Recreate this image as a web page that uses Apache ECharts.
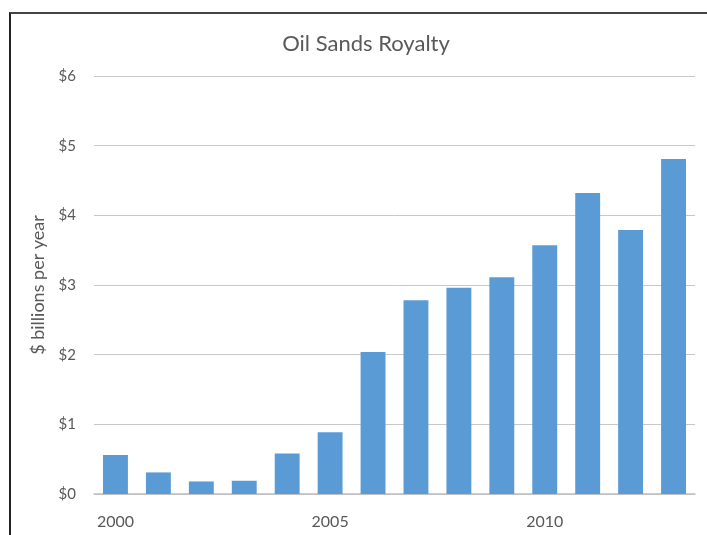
<!DOCTYPE html>
<html>
<head>
<meta charset="utf-8">
<script src="https://cdn.jsdelivr.net/npm/echarts@6/dist/echarts.min.js"></script>
<style>
html,body{margin:0;padding:0;background:#fff;overflow:hidden;}
#chart{width:707px;height:535px;position:absolute;left:0;top:0;}
#frame{position:absolute;left:9px;top:12px;width:720px;height:540px;border-left:2px solid #222;border-top:2px solid #444;pointer-events:none;box-sizing:border-box;}
</style>
</head>
<body>
<div id="chart"></div>
<div id="frame"></div>
<script>
const years = ['2000','2001','2002','2003','2004','2005','2006','2007','2008','2009','2010','2011','2012','2013'];
const royalty = [0.56, 0.31, 0.18, 0.19, 0.58, 0.885, 2.04, 2.78, 2.96, 3.11, 3.57, 4.32, 3.79, 4.81];
const yTicks = [0, 1, 2, 3, 4, 5, 6];

const chart = echarts.init(document.getElementById('chart'));
const font = 'Lato, "Open Sans", sans-serif';
chart.setOption({
  animation: false,
  title: {
    text: 'Oil Sands Royalty',
    left: 361, top: 28, textAlign: 'center',
    textStyle: {fontFamily: font, fontSize: 22, fontWeight: 'normal', color: '#595959'}
  },
  grid: {left: 94, right: 12, top: 76, bottom: 41},
  xAxis: {
    type: 'category',
    data: years,
    axisTick: {show: false},
    axisLine: {lineStyle: {color: '#BFBFBF', width: 1.5}},
    axisLabel: {interval: 4, color: '#595959', fontFamily: font, fontSize: 16, margin: 20}
  },
  yAxis: {
    type: 'value',
    min: yTicks[0], max: yTicks[yTicks.length - 1], interval: 1,
    name: '$ billions per year',
    nameLocation: 'middle', nameGap: 47,
    nameTextStyle: {fontFamily: font, fontSize: 18, color: '#595959'},
    axisLine: {show: false},
    axisTick: {show: false},
    axisLabel: {formatter: v => '$' + v, color: '#595959', fontFamily: font, fontSize: 15, margin: 18},
    splitLine: {lineStyle: {color: '#C8C8C8', width: 1}}
  },
  series: [{
    type: 'bar',
    data: royalty,
    barCategoryGap: '42%',
    itemStyle: {color: '#5B9BD5'}
  }]
});
</script>
</body>
</html>
